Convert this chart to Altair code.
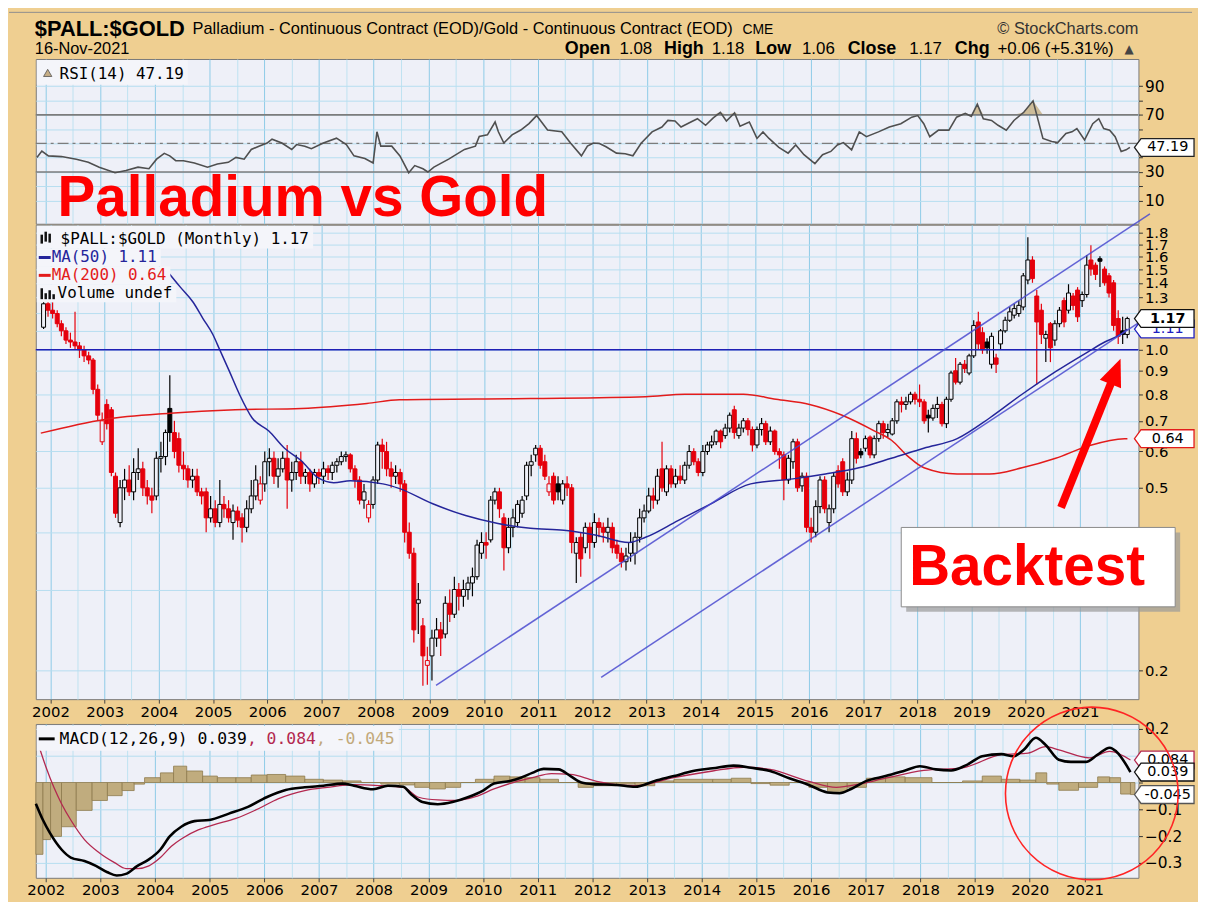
import altair as alt
import pandas as pd
import numpy as np

# ----------------------------------------------------------------- data
# Monthly candles, Nov-2001 .. Nov-2021 ($PALL:$GOLD ratio)
CANDLE_FIRST = "2001-11-01"
OPEN = [
    1.12, 1.26,
    1.22, 1.20, 1.14, 1.10, 1.05, 1.04, 1.02, 1.00, 0.97, 0.95, 0.82, 0.63,
    0.76, 0.74, 0.53, 0.42, 0.50, 0.52, 0.49, 0.54, 0.55, 0.50, 0.48, 0.48,
    0.58, 0.585, 0.745, 0.66, 0.64, 0.56, 0.55, 0.52, 0.53, 0.49, 0.49, 0.43,
    0.45, 0.42, 0.46, 0.45, 0.42, 0.445, 0.43, 0.41, 0.45, 0.48, 0.47, 0.51,
    0.57, 0.58, 0.53, 0.55, 0.58, 0.52, 0.54, 0.57, 0.53, 0.54, 0.51, 0.54,
    0.53, 0.55, 0.54, 0.56, 0.57, 0.585, 0.59, 0.55, 0.52, 0.47, 0.43, 0.46,
    0.52, 0.62, 0.60, 0.55, 0.53, 0.54, 0.51, 0.40, 0.36, 0.28, 0.25, 0.205,
    0.215, 0.235, 0.245, 0.24, 0.28, 0.265, 0.30, 0.29, 0.30, 0.31, 0.32, 0.36,
    0.38, 0.385, 0.47, 0.49, 0.43, 0.37, 0.41, 0.42, 0.44, 0.48, 0.56, 0.59,
    0.61, 0.57, 0.49, 0.53, 0.51, 0.47, 0.51, 0.50, 0.36, 0.39, 0.37, 0.41,
    0.38, 0.42, 0.41, 0.40, 0.41, 0.375, 0.36, 0.345, 0.36, 0.36, 0.39, 0.43,
    0.445, 0.48, 0.47, 0.55, 0.49, 0.55, 0.51, 0.53, 0.52, 0.56, 0.60, 0.57,
    0.54, 0.60, 0.62, 0.63, 0.665, 0.65, 0.675, 0.74, 0.65, 0.675, 0.70, 0.67,
    0.62, 0.67, 0.69, 0.63, 0.665, 0.60, 0.59, 0.52, 0.57, 0.63, 0.505, 0.53,
    0.41, 0.40, 0.455, 0.52, 0.42, 0.45, 0.545, 0.57, 0.49, 0.52, 0.64, 0.60,
    0.61, 0.645, 0.59, 0.64, 0.69, 0.66, 0.655, 0.70, 0.77, 0.76, 0.77, 0.80,
    0.78, 0.77, 0.72, 0.71, 0.745, 0.76, 0.69, 0.78, 0.90, 0.85, 0.93, 0.89,
    0.97, 1.15, 1.09, 1.04, 0.93, 0.96, 1.03, 1.10, 1.16, 1.19, 1.20, 1.24,
    1.42, 1.57, 1.31, 1.22, 1.06, 1.14, 1.05, 1.14, 1.28, 1.22, 1.31, 1.35,
    1.28, 1.32, 1.57, 1.53, 1.58, 1.50, 1.45, 1.40, 1.17, 1.10, 1.08,
]
HIGH = [
    1.30, 1.30,
    1.27, 1.22, 1.16, 1.12, 1.09, 1.21, 1.04, 1.02, 0.99, 0.96, 0.84, 0.73,
    0.78, 0.75, 0.54, 0.52, 0.55, 0.56, 0.58, 0.61, 0.57, 0.52, 0.50, 0.60,
    0.63, 0.67, 0.88, 0.70, 0.66, 0.60, 0.56, 0.55, 0.55, 0.50, 0.50, 0.48,
    0.47, 0.52, 0.48, 0.47, 0.46, 0.455, 0.44, 0.47, 0.52, 0.56, 0.53, 0.60,
    0.61, 0.60, 0.58, 0.60, 0.62, 0.57, 0.59, 0.60, 0.55, 0.55, 0.55, 0.55,
    0.57, 0.56, 0.57, 0.58, 0.60, 0.60, 0.595, 0.56, 0.53, 0.51, 0.47, 0.53,
    0.63, 0.64, 0.63, 0.57, 0.56, 0.55, 0.52, 0.42, 0.37, 0.31, 0.26, 0.225,
    0.245, 0.26, 0.255, 0.29, 0.30, 0.32, 0.31, 0.315, 0.32, 0.335, 0.385, 0.40,
    0.40, 0.48, 0.50, 0.50, 0.44, 0.43, 0.45, 0.47, 0.48, 0.57, 0.59, 0.62,
    0.62, 0.59, 0.53, 0.54, 0.53, 0.52, 0.53, 0.51, 0.39, 0.40, 0.42, 0.42,
    0.44, 0.43, 0.42, 0.43, 0.42, 0.385, 0.37, 0.37, 0.40, 0.40, 0.45, 0.46,
    0.50, 0.50, 0.55, 0.63, 0.56, 0.56, 0.55, 0.56, 0.57, 0.62, 0.61, 0.58,
    0.62, 0.63, 0.65, 0.67, 0.67, 0.69, 0.73, 0.755, 0.69, 0.71, 0.71, 0.68,
    0.68, 0.71, 0.70, 0.68, 0.67, 0.61, 0.60, 0.59, 0.64, 0.64, 0.54, 0.54,
    0.43, 0.47, 0.53, 0.53, 0.46, 0.54, 0.56, 0.58, 0.54, 0.665, 0.66, 0.61,
    0.65, 0.65, 0.65, 0.70, 0.70, 0.69, 0.71, 0.78, 0.79, 0.79, 0.81, 0.81,
    0.84, 0.78, 0.74, 0.76, 0.79, 0.77, 0.79, 0.90, 0.96, 0.94, 0.95, 0.98,
    1.16, 1.21, 1.12, 1.06, 1.09, 0.98, 1.11, 1.18, 1.24, 1.26, 1.28, 1.47,
    1.76, 1.60, 1.35, 1.26, 1.10, 1.15, 1.16, 1.24, 1.30, 1.39, 1.33, 1.37,
    1.34, 1.61, 1.69, 1.55, 1.60, 1.52, 1.47, 1.42, 1.22, 1.18, 1.18,
]
LOW = [
    1.11, 1.18,
    1.17, 1.12, 1.07, 1.03, 1.01, 1.00, 0.96, 0.94, 0.93, 0.80, 0.70, 0.62,
    0.67, 0.53, 0.43, 0.41, 0.47, 0.48, 0.47, 0.52, 0.48, 0.46, 0.44, 0.47,
    0.54, 0.56, 0.63, 0.58, 0.54, 0.52, 0.50, 0.50, 0.48, 0.46, 0.40, 0.42,
    0.41, 0.41, 0.43, 0.42, 0.385, 0.41, 0.38, 0.40, 0.44, 0.47, 0.46, 0.49,
    0.53, 0.51, 0.50, 0.54, 0.45, 0.49, 0.52, 0.51, 0.51, 0.49, 0.50, 0.51,
    0.51, 0.52, 0.52, 0.54, 0.56, 0.57, 0.54, 0.50, 0.46, 0.45, 0.42, 0.45,
    0.51, 0.55, 0.53, 0.50, 0.51, 0.49, 0.38, 0.35, 0.23, 0.24, 0.185, 0.186,
    0.19, 0.225, 0.215, 0.235, 0.255, 0.26, 0.27, 0.275, 0.285, 0.29, 0.315, 0.35,
    0.35, 0.38, 0.46, 0.43, 0.33, 0.36, 0.39, 0.41, 0.43, 0.47, 0.53, 0.57,
    0.55, 0.52, 0.48, 0.46, 0.47, 0.46, 0.48, 0.36, 0.31, 0.32, 0.36, 0.35,
    0.37, 0.39, 0.38, 0.38, 0.36, 0.35, 0.335, 0.33, 0.345, 0.34, 0.38, 0.42,
    0.44, 0.45, 0.46, 0.49, 0.48, 0.50, 0.50, 0.51, 0.51, 0.55, 0.56, 0.53,
    0.53, 0.59, 0.61, 0.62, 0.61, 0.64, 0.66, 0.64, 0.64, 0.66, 0.65, 0.60,
    0.61, 0.65, 0.62, 0.62, 0.59, 0.55, 0.47, 0.51, 0.55, 0.49, 0.49, 0.40,
    0.38, 0.39, 0.44, 0.44, 0.40, 0.44, 0.50, 0.48, 0.48, 0.51, 0.565, 0.58,
    0.60, 0.58, 0.58, 0.63, 0.64, 0.645, 0.65, 0.69, 0.73, 0.74, 0.76, 0.76,
    0.75, 0.69, 0.66, 0.70, 0.71, 0.68, 0.675, 0.77, 0.84, 0.84, 0.89, 0.88,
    0.96, 1.00, 0.98, 0.98, 0.91, 0.89, 1.00, 1.09, 1.15, 1.17, 1.18, 1.22,
    1.39, 1.40, 0.84, 1.03, 0.94, 0.94, 1.02, 1.12, 1.12, 1.20, 1.22, 1.15,
    1.24, 1.30, 1.45, 1.42, 1.37, 1.38, 1.30, 1.10, 1.03, 1.03, 1.06,
]
CLOSE = [
    1.26, 1.22,
    1.20, 1.14, 1.10, 1.05, 1.04, 1.02, 1.00, 0.97, 0.95, 0.82, 0.72, 0.70,
    0.69, 0.54, 0.44, 0.50, 0.52, 0.49, 0.54, 0.55, 0.50, 0.48, 0.47, 0.58,
    0.585, 0.66, 0.66, 0.60, 0.56, 0.55, 0.52, 0.53, 0.49, 0.48, 0.43, 0.45,
    0.42, 0.46, 0.45, 0.43, 0.445, 0.425, 0.41, 0.45, 0.48, 0.52, 0.51, 0.57,
    0.58, 0.53, 0.55, 0.58, 0.52, 0.54, 0.57, 0.53, 0.54, 0.51, 0.54, 0.53,
    0.55, 0.54, 0.56, 0.57, 0.585, 0.59, 0.55, 0.52, 0.47, 0.49, 0.46, 0.52,
    0.62, 0.60, 0.55, 0.53, 0.54, 0.51, 0.40, 0.36, 0.245, 0.285, 0.215, 0.21,
    0.235, 0.245, 0.235, 0.28, 0.265, 0.30, 0.29, 0.30, 0.31, 0.32, 0.375, 0.38,
    0.375, 0.47, 0.49, 0.45, 0.37, 0.41, 0.43, 0.46, 0.47, 0.56, 0.57, 0.61,
    0.56, 0.53, 0.51, 0.47, 0.49, 0.51, 0.50, 0.38, 0.38, 0.35, 0.41, 0.38,
    0.42, 0.41, 0.40, 0.41, 0.37, 0.36, 0.345, 0.355, 0.38, 0.39, 0.43, 0.445,
    0.48, 0.47, 0.53, 0.50, 0.55, 0.51, 0.53, 0.52, 0.56, 0.60, 0.57, 0.54,
    0.60, 0.62, 0.63, 0.665, 0.63, 0.675, 0.72, 0.66, 0.675, 0.70, 0.67, 0.62,
    0.67, 0.69, 0.63, 0.665, 0.60, 0.59, 0.52, 0.58, 0.63, 0.50, 0.53, 0.41,
    0.40, 0.455, 0.52, 0.45, 0.45, 0.53, 0.51, 0.49, 0.52, 0.64, 0.58, 0.59,
    0.64, 0.59, 0.64, 0.69, 0.66, 0.67, 0.70, 0.77, 0.76, 0.77, 0.80, 0.78,
    0.77, 0.70, 0.71, 0.745, 0.76, 0.69, 0.78, 0.89, 0.85, 0.93, 0.91, 0.97,
    1.13, 1.03, 1.00, 1.01, 1.07, 0.93, 1.10, 1.16, 1.21, 1.23, 1.25, 1.45,
    1.57, 1.43, 1.15, 1.08, 1.08, 1.01, 1.14, 1.22, 1.15, 1.33, 1.25, 1.18,
    1.32, 1.53, 1.50, 1.46, 1.56, 1.40, 1.33, 1.13, 1.07, 1.08, 1.17,
]

# moving averages (decimal year, value)
MA50 = [(2004.123, 1.50), (2004.396, 1.37), (2004.632, 1.27), (2004.813, 1.17), (2004.995, 1.08),
        (2005.122, 1.00), (2005.303, 0.896), (2005.485, 0.80), (2005.721, 0.71), (2006.029, 0.665),
        (2006.319, 0.61), (2006.628, 0.573), (2006.936, 0.526), (2007.227, 0.513), (2007.535, 0.518),
        (2008.134, 0.51), (2008.443, 0.498), (2009.042, 0.462), (2009.659, 0.435), (2010.258, 0.418),
        (2010.857, 0.408), (2011.474, 0.404), (2012.073, 0.394), (2012.672, 0.38), (2012.98, 0.39),
        (2013.579, 0.424), (2014.196, 0.462), (2014.922, 0.51), (2015.702, 0.523), (2016.301, 0.536),
        (2016.918, 0.553), (2017.517, 0.58), (2018.116, 0.61), (2018.733, 0.64), (2019.332, 0.71),
        (2019.931, 0.80), (2020.548, 0.896), (2021.147, 0.99), (2021.456, 1.04), (2021.746, 1.08),
        (2021.874, 1.11)]
MA200 = [(2001.82, 0.658), (2003.0, 0.705), (2004.21, 0.727), (2005.41, 0.74), (2006.63, 0.745),
         (2007.84, 0.764), (2008.44, 0.778), (2010.86, 0.783), (2012.98, 0.79), (2013.71, 0.80),
         (2014.79, 0.80), (2015.39, 0.78), (2016.01, 0.76), (2016.61, 0.72), (2017.21, 0.665),
         (2017.52, 0.635), (2017.83, 0.585), (2018.12, 0.553), (2018.73, 0.536), (2019.33, 0.536),
         (2019.93, 0.553), (2020.55, 0.58), (2021.15, 0.617), (2021.82, 0.64), (2021.874, 0.64)]

# hand drawn channel lines (decimal year, value)
CHANNEL_UPPER = [(2009.114, 0.1855), (2022.29, 1.979)]
CHANNEL_LOWER = [(2012.163, 0.193), (2022.33, 1.198)]

# RSI(14) (decimal year, value)
RSI = [(2001.84, 40.2), (2001.93, 44.7), (2002.05, 41.3), (2002.29, 40.8), (2002.56, 39.0),
       (2002.78, 36.8), (2002.98, 33.4), (2003.27, 29.5), (2003.47, 31.1), (2003.69, 33.4),
       (2003.89, 32.3), (2004.03, 39.0), (2004.17, 43.1), (2004.27, 41.3), (2004.38, 37.9),
       (2004.52, 37.9), (2004.72, 36.3), (2004.96, 33.4), (2005.14, 35.6), (2005.34, 36.8),
       (2005.48, 40.2), (2005.63, 39.0), (2005.76, 45.8), (2005.90, 48.1), (2006.05, 50.3),
       (2006.14, 53.0), (2006.32, 50.3), (2006.50, 45.8), (2006.59, 49.2), (2006.74, 48.1),
       (2006.86, 46.3), (2007.08, 50.3), (2007.32, 53.7), (2007.50, 49.2), (2007.64, 41.3),
       (2007.84, 39.5), (2007.99, 36.3), (2008.06, 58.2), (2008.13, 48.1), (2008.33, 48.1),
       (2008.48, 41.3), (2008.64, 29.5), (2008.75, 34.5), (2008.90, 32.3), (2008.99, 30.0),
       (2009.10, 33.4), (2009.37, 39.0), (2009.66, 45.8), (2009.86, 48.1), (2009.93, 54.9),
       (2010.08, 56.0), (2010.22, 65.0), (2010.28, 58.2), (2010.38, 50.3), (2010.53, 56.0),
       (2010.69, 59.4), (2010.84, 63.9), (2010.98, 69.5), (2011.18, 59.4), (2011.44, 58.2),
       (2011.60, 50.3), (2011.80, 41.3), (2011.91, 48.1), (2012.02, 50.3), (2012.13, 50.0),
       (2012.25, 47.7), (2012.44, 43.2), (2012.60, 42.8), (2012.74, 41.4), (2012.89, 50.1),
       (2013.09, 58.1), (2013.27, 61.5), (2013.38, 66.1), (2013.51, 65.7), (2013.62, 61.5),
       (2013.80, 65.0), (2013.92, 67.3), (2014.07, 62.7), (2014.21, 67.9), (2014.34, 71.8),
       (2014.45, 65.7), (2014.60, 71.4), (2014.70, 62.0), (2014.87, 65.0), (2015.01, 53.5),
       (2015.12, 58.1), (2015.23, 53.5), (2015.41, 47.3), (2015.58, 43.2), (2015.72, 48.9),
       (2015.87, 42.1), (2016.07, 35.9), (2016.21, 42.1), (2016.36, 44.4), (2016.48, 48.9),
       (2016.59, 50.6), (2016.74, 45.5), (2016.88, 58.1), (2017.01, 54.7), (2017.23, 58.1),
       (2017.43, 61.5), (2017.64, 63.8), (2017.84, 68.4), (2017.95, 69.5), (2018.06, 63.8),
       (2018.17, 54.7), (2018.33, 59.3), (2018.52, 59.3), (2018.66, 68.4), (2018.82, 71.1),
       (2018.93, 68.9), (2019.04, 77.5), (2019.15, 67.3), (2019.30, 66.1), (2019.42, 62.7),
       (2019.57, 59.3), (2019.71, 66.1), (2019.89, 71.8), (2020.06, 79.8), (2020.24, 53.5),
       (2020.40, 51.3), (2020.51, 50.6), (2020.66, 57.0), (2020.77, 58.1), (2020.86, 60.4),
       (2021.00, 52.4), (2021.15, 63.8), (2021.26, 67.3), (2021.35, 60.4), (2021.46, 59.3),
       (2021.56, 54.7), (2021.67, 44.4), (2021.76, 45.5), (2021.83, 47.2)]

# MACD(12,26,9): MACD line, signal line, histogram (decimal year, value)
MACD = [(2001.82, -0.079), (2001.95, -0.140), (2002.08, -0.189), (2002.29, -0.25), (2002.46, -0.28),
        (2002.71, -0.293), (2002.92, -0.311), (2003.13, -0.335), (2003.30, -0.347), (2003.47, -0.341),
        (2003.68, -0.311), (2003.89, -0.287), (2004.10, -0.25), (2004.27, -0.201), (2004.48, -0.165),
        (2004.72, -0.144), (2004.99, -0.140), (2005.35, -0.116), (2005.70, -0.091), (2006.04, -0.055),
        (2006.39, -0.028), (2006.74, -0.018), (2007.08, -0.012), (2007.43, -0.004), (2007.64, -0.012),
        (2007.99, -0.025), (2008.26, -0.012), (2008.54, -0.016), (2008.68, -0.043), (2008.89, -0.073),
        (2009.17, -0.081), (2009.44, -0.073), (2009.72, -0.055), (2010.00, -0.030), (2010.20, -0.004),
        (2010.49, 0.006), (2010.69, 0.018), (2010.90, 0.036), (2011.11, 0.051), (2011.38, 0.049),
        (2011.60, 0.024), (2011.80, 0.0), (2012.02, -0.006), (2012.44, -0.009), (2012.78, -0.016),
        (2013.14, 0.006), (2013.49, 0.024), (2013.84, 0.043), (2014.20, 0.053), (2014.58, 0.063),
        (2014.90, 0.055), (2015.25, 0.043), (2015.60, 0.016), (2015.96, -0.009), (2016.30, -0.037),
        (2016.52, -0.040), (2016.73, -0.024), (2017.01, 0.006), (2017.36, 0.024), (2017.72, 0.045),
        (2017.99, 0.061), (2018.28, 0.049), (2018.56, 0.045), (2018.84, 0.065), (2019.13, 0.098),
        (2019.48, 0.106), (2019.70, 0.098), (2019.89, 0.122), (2020.11, 0.167), (2020.29, 0.140),
        (2020.53, 0.085), (2020.75, 0.077), (2021.02, 0.077), (2021.24, 0.104), (2021.46, 0.130),
        (2021.58, 0.116), (2021.84, 0.039)]
SIGNAL = [(2001.87, 0.14), (2002.01, 0.055), (2002.15, -0.018), (2002.29, -0.079), (2002.46, -0.140),
          (2002.71, -0.213), (2002.98, -0.262), (2003.26, -0.299), (2003.47, -0.321), (2003.68, -0.321),
          (2003.89, -0.311), (2004.10, -0.280), (2004.30, -0.238), (2004.51, -0.207), (2004.79, -0.177),
          (2005.07, -0.158), (2005.48, -0.134), (2005.90, -0.097), (2006.25, -0.061), (2006.74, -0.030),
          (2007.15, -0.018), (2007.64, -0.008), (2008.13, -0.012), (2008.54, -0.018), (2008.82, -0.055),
          (2009.17, -0.065), (2009.51, -0.067), (2009.86, -0.053), (2010.20, -0.024), (2010.55, 0.0),
          (2010.90, 0.018), (2011.25, 0.033), (2011.60, 0.030), (2011.95, 0.012), (2012.08, 0.004),
          (2012.78, -0.012), (2013.49, 0.018), (2014.20, 0.043), (2014.76, 0.057), (2015.25, 0.049),
          (2015.96, 0.004), (2016.46, -0.018), (2016.88, -0.006), (2017.36, 0.016), (2018.06, 0.045),
          (2018.77, 0.055), (2019.48, 0.104), (2019.97, 0.110), (2020.29, 0.134), (2020.53, 0.122),
          (2021.09, 0.092), (2021.46, 0.116), (2021.84, 0.084)]
HIST = [(2001.82, -0.268), (2001.95, -0.213), (2002.09, -0.201), (2002.29, -0.165), (2002.56, -0.104),
        (2002.85, -0.067), (2003.13, -0.049), (2003.40, -0.030), (2003.62, -0.006), (2003.81, 0.018),
        (2004.10, 0.036), (2004.34, 0.061), (2004.58, 0.043), (2004.87, 0.024), (2005.14, 0.018),
        (2005.48, 0.018), (2005.76, 0.028), (2006.05, 0.030), (2006.39, 0.024), (2006.74, 0.012),
        (2007.08, 0.009), (2007.43, 0.006), (2007.77, 0.0), (2008.13, -0.006), (2008.47, -0.009),
        (2008.75, -0.018), (2009.02, -0.024), (2009.31, -0.018), (2009.59, 0.0), (2009.86, 0.012),
        (2010.20, 0.024), (2010.49, 0.021), (2010.77, 0.018), (2011.04, 0.012), (2011.38, 0.0),
        (2011.74, -0.018), (2012.02, -0.012), (2012.44, -0.006), (2012.78, -0.012), (2013.14, 0.006),
        (2013.49, 0.012), (2014.20, 0.012), (2014.54, 0.016), (2014.90, -0.004), (2015.25, -0.010),
        (2015.60, 0.0), (2015.96, -0.018), (2016.30, -0.033), (2016.66, -0.018), (2017.01, 0.016),
        (2017.36, 0.021), (2017.72, 0.018), (2018.21, 0.0), (2018.77, 0.006), (2019.13, 0.024),
        (2019.48, 0.012), (2019.82, 0.009), (2020.11, 0.036), (2020.31, -0.006), (2020.53, -0.029),
        (2020.89, -0.018), (2021.24, 0.021), (2021.46, 0.018), (2021.66, -0.043), (2021.84, -0.045)]

# last-value tags
RSI_LAST = 47.19
PRICE_LAST, MA50_LAST, MA200_LAST = 1.17, 1.11, 0.64
MACD_LAST, SIGNAL_LAST, HIST_LAST = 0.039, 0.084, -0.045

# axis ticks
RSI_TICKS = [10, 20, 30, 40, 50, 60, 70, 80, 90]
PRICE_TICKS = [0.2, 0.3, 0.4, 0.5, 0.6, 0.7, 0.8, 0.9, 1.0, 1.1, 1.2, 1.3, 1.4, 1.5, 1.6, 1.7, 1.8]
MACD_TICKS = [-0.3, -0.2, -0.1, 0, 0.1, 0.2]
YEARS = list(range(2002, 2022))

# ----------------------------------------------------------------- style
BG = "#EFCF91"
PLOT_BG = "#EEF0F8"
LEG_BG = "#F4F5FA"
RED = "#E5000C"
FONT = "DejaVu Sans"
MONO = "DejaVu Sans Mono"
HEAD = "Liberation Sans"
W = 1111
H_RSI, H_MAIN, H_GAP, H_MACD = 166, 478, 23, 155


def dec_to_date(t):
    y = int(np.floor(t))
    a = pd.Timestamp(year=y, month=1, day=1)
    b = pd.Timestamp(year=y + 1, month=1, day=1)
    return a + (b - a) * (t - y)


def series(pairs, name):
    return pd.DataFrame({"date": [dec_to_date(t) for t, _ in pairs], name: [v for _, v in pairs]})


HALF = [alt.DateTime(year=y, month=m, date=1) for y in YEARS for m in (1, 7)]
IS_YEAR = "month(datum.value) === 0"
XS = alt.Scale(domain=[alt.DateTime(year=2001, month=10, date=27),
                       alt.DateTime(year=2021, month=12, date=27)], nice=False)


def x_axis(show):
    return alt.Axis(values=HALF, grid=True,
                    gridColor={"condition": {"test": IS_YEAR, "value": "#8ECBE7"}, "value": "#BEE2F1"},
                    gridWidth=1, labels=show, ticks=show, tickSize=4,
                    tickColor={"condition": {"test": IS_YEAR, "value": "#444444"}, "value": "rgba(0,0,0,0)"},
                    labelExpr=IS_YEAR + " ? timeFormat(datum.value, '%Y') : ''",
                    labelFont=FONT, labelFontSize=15, labelColor="#000000", labelPadding=1,
                    labelOverlap=False, labelFlush=False, domain=False, title=None)


def y_axis(values, expr, size=15.5):
    return alt.Axis(orient="right", values=values, grid=True, gridColor="#B6DEF0", gridWidth=1,
                    labelExpr=expr, labelFont=FONT, labelFontSize=size, labelColor="#000000",
                    ticks=True, tickSize=4, tickColor="#333333", labelPadding=2, domain=False,
                    title=None, labelOverlap=False, labelFlush=False)


X_TOP = alt.X("date:T", scale=XS, axis=x_axis(False))
X_LAB = alt.X("date:T", scale=XS, axis=x_axis(True))

YR_S = alt.Scale(domain=[-6.2, 109.1], nice=False, zero=False)
YM_S = alt.Scale(type="log", domain=[0.173, 1.874], nice=False)
YD_S = alt.Scale(domain=[-0.3556, 0.2185], nice=False, zero=False)
YR_A = y_axis(RSI_TICKS, "indexof([10, 30, 70, 90], datum.value) >= 0 ? format(datum.value, 'd') : ''")
YM_A = y_axis(PRICE_TICKS, "indexof([0.3, 1.1, 1.2], datum.value) >= 0 ? '' : format(datum.value, '.1f')", 15)
YD_A = y_axis(MACD_TICKS, "(datum.value == 0.1 || datum.value == 0) ? '' : format(datum.value, '.1f')")


def one(**kw):
    return pd.DataFrame({k: [v] for k, v in kw.items()})


def label(text, x, y, size, color="#000000", weight="normal", font=FONT, align="left"):
    return alt.Chart(one(t=text)).mark_text(align=align, baseline="alphabetic", font=font,
                                            fontSize=size, fontWeight=weight, color=color).encode(
        x=alt.value(x), y=alt.value(y), text="t:N")


def hline(x1, x2, y, color, width):
    return alt.Chart(one(t=0)).mark_rule(color=color, strokeWidth=width).encode(
        x=alt.value(x1), x2=alt.value(x2), y=alt.value(y), y2=alt.value(y))


def box(x1, x2, y1, y2, fill):
    return alt.Chart(one(t=0)).mark_rect(fill=fill).encode(
        x=alt.value(x1), x2=alt.value(x2), y=alt.value(y1), y2=alt.value(y2))


TAG_PATH = "M-1,0L-0.78,-0.3L1,-0.3L1,0.3L-0.78,0.3Z"


def tag(value, text, stroke, ys, ya, bold=False, tcolor="#000000"):
    d = alt.Chart(one(v=value, t=text))
    sym = d.mark_point(shape=TAG_PATH, size=3600, filled=True, fill="#FFFFFF", stroke=stroke,
                       strokeWidth=1.3, opacity=1).encode(
        x=alt.value(W + 26), y=alt.Y("v:Q", scale=ys, axis=ya))
    txt = d.mark_text(align="center", baseline="middle", font=FONT, fontSize=14.5,
                      fontWeight="bold" if bold else "normal", color=tcolor).encode(
        x=alt.value(W + 29.5), y=alt.Y("v:Q", scale=ys, axis=ya), text="t:N")
    return [sym, txt]


LEG = 16
CW = 0.602 * LEG

# ----------------------------------------------------------------- RSI panel
rsi_df = series(RSI, "rsi")
lv = pd.DataFrame({"v": [70, 30]})
rsi_text = f"RSI(14) {RSI_LAST:.2f}"
rsi_layers = [
    alt.Chart(rsi_df).transform_calculate(top="max(datum.rsi, 70)", base="70").mark_area(
        color="#C9B68E", opacity=0.9).encode(x=X_TOP, y=alt.Y("top:Q", scale=YR_S, axis=YR_A), y2="base:Q"),
    alt.Chart(lv).mark_rule(color="#7C7C7C", strokeWidth=1.6).encode(y=alt.Y("v:Q", scale=YR_S, axis=YR_A)),
    alt.Chart(one(v=50)).mark_rule(color="#7C7C7C", strokeWidth=1.2, strokeDash=[11, 4, 3, 4]).encode(
        y=alt.Y("v:Q", scale=YR_S, axis=YR_A)),
    alt.Chart(rsi_df).mark_line(color="#4F4F4F", strokeWidth=1.6).encode(
        x=X_TOP, y=alt.Y("rsi:Q", scale=YR_S, axis=YR_A)),
    *tag(RSI_LAST, f"{RSI_LAST:.2f}", "#222222", YR_S, YR_A),
    box(1, 28 + CW * len(rsi_text), 1, 26, LEG_BG),
    alt.Chart(one(t=0)).mark_point(shape="triangle-up", size=70, filled=True, color="#C6AE86",
                                   stroke="#555555", strokeWidth=0.8, opacity=1).encode(
        x=alt.value(12), y=alt.value(14)),
    label(rsi_text, 24, 20, LEG, font=MONO),
    label("Palladium vs Gold", 22, 158, 57, color="#FF0000", weight="bold", font=HEAD),
    # header
    hline(-27, 1165, -47, "#8E8E8E", 1),
    label("$PALL:$GOLD", -1, -23, 22, weight="bold", font=HEAD),
    label("Palladium - Continuous Contract (EOD)/Gold - Continuous Contract (EOD)", 158, -25, 16.5, font=HEAD),
    label("CME", 712, -25, 14, font=HEAD),
    label("\u00a9 StockCharts.com", W, -25, 16.5, color="#333333", font=HEAD, align="right"),
    label("16-Nov-2021", -1, -5, 16.5, font=HEAD),
    label("Open", 533, -5, 18, weight="bold", font=HEAD),
    label("1.08", 588, -5, 17, font=HEAD),
    label("High", 633, -5, 18, weight="bold", font=HEAD),
    label("1.18", 681, -5, 17, font=HEAD),
    label("Low", 725, -5, 18, weight="bold", font=HEAD),
    label("1.06", 772, -5, 17, font=HEAD),
    label("Close", 818, -5, 18, weight="bold", font=HEAD),
    label("1.17", 880, -5, 17, font=HEAD),
    label("Chg", 926, -5, 18, weight="bold", font=HEAD),
    label("+0.06 (+5.31%)", 969, -5, 17, font=HEAD),
    label("\u25b2", 1097, -6, 12, color="#444444", font=FONT),
]
rsi = alt.layer(*rsi_layers).properties(width=W, height=H_RSI)

# ----------------------------------------------------------------- main panel
c = pd.DataFrame({"date": pd.date_range(CANDLE_FIRST, periods=len(CLOSE), freq="MS") + pd.Timedelta(days=14),
                  "open": OPEN, "high": HIGH, "low": LOW, "close": CLOSE})
assert len(OPEN) == len(HIGH) == len(LOW) == len(CLOSE) == 241
prev = c["close"].shift(1).fillna(c["open"])
c["col"] = np.where(c["close"] < prev, RED, "#000000")
c["fil"] = np.where(c["close"] >= c["open"], PLOT_BG, c["col"])

ma50 = series(MA50, "v")
ma200 = series(MA200, "v")
chan = pd.concat([series(CHANNEL_UPPER, "v").assign(id="u"), series(CHANNEL_LOWER, "v").assign(id="l")])

leg1 = f"$PALL:$GOLD (Monthly) {PRICE_LAST:.2f}"
leg2 = f"MA(50) {MA50_LAST:.2f}"
leg3 = f"MA(200) {MA200_LAST:.2f}"
leg4 = "Volume undef"
main_layers = [
    alt.Chart(c).mark_rule(strokeWidth=1.2).encode(
        x=X_LAB, y=alt.Y("low:Q", scale=YM_S, axis=YM_A), y2="high:Q",
        color=alt.Color("col:N", scale=None)),
    alt.Chart(c).mark_bar(size=4, strokeWidth=1).encode(
        x=X_LAB, y=alt.Y("open:Q", scale=YM_S, axis=YM_A), y2="close:Q",
        fill=alt.Fill("fil:N", scale=None), stroke=alt.Stroke("col:N", scale=None)),
    alt.Chart(ma200).mark_line(color="#E31B1B", strokeWidth=1.5, interpolate="monotone").encode(
        x=X_LAB, y=alt.Y("v:Q", scale=YM_S, axis=YM_A)),
    alt.Chart(ma50).mark_line(color="#25259A", strokeWidth=1.5, interpolate="monotone").encode(
        x=X_LAB, y=alt.Y("v:Q", scale=YM_S, axis=YM_A)),
    alt.Chart(one(v=1.0)).mark_rule(color="#1F1FB5", strokeWidth=1.5).encode(
        y=alt.Y("v:Q", scale=YM_S, axis=YM_A)),
    alt.Chart(chan).mark_line(color="#4A4ACF", strokeWidth=1.5, opacity=0.85).encode(
        x=X_LAB, y=alt.Y("v:Q", scale=YM_S, axis=YM_A), detail="id:N"),
    # legend
    box(1, 29 + CW * len(leg1), 1, 24, LEG_BG),
    box(1, 20 + CW * len(leg2), 24, 42, LEG_BG),
    box(1, 20 + CW * len(leg3), 42, 60, LEG_BG),
    box(1, 26 + CW * len(leg4), 60, 78, LEG_BG),
    alt.Chart(pd.DataFrame({"x": [6, 10, 14], "y1": [10, 7, 9], "y2": [19, 17, 18]})).mark_rule(
        color="#111111", strokeWidth=2.5).encode(x=alt.X("x:Q", scale=None), y=alt.Y("y1:Q", scale=None),
                                                 y2="y2:Q"),
    label(leg1, 25, 19, LEG, font=MONO),
    hline(3, 15, 33, "#25259A", 3),
    label(leg2, 16, 38, LEG, color="#25259A", font=MONO),
    hline(3, 15, 51, "#E31B1B", 3),
    label(leg3, 16, 56, LEG, color="#E31B1B", font=MONO),
    alt.Chart(pd.DataFrame({"x": [6, 10, 14, 18], "y1": [64, 69, 66, 70]})).mark_rule(
        color="#111111", strokeWidth=2.5).encode(x=alt.X("x:Q", scale=None), y=alt.Y("y1:Q", scale=None),
                                                 y2=alt.value(75)),
    label(leg4, 22, 74, LEG, font=MONO),
    # tags
    *tag(MA50_LAST, f"{MA50_LAST:.2f}", "#2020C0", YM_S, YM_A, tcolor="#2020C0"),
    *tag(MA200_LAST, f"{MA200_LAST:.2f}", "#E31B1B", YM_S, YM_A),
    *tag(PRICE_LAST, f"{PRICE_LAST:.2f}", "#111111", YM_S, YM_A, bold=True),
    # Backtest annotation
    alt.Chart(one(t=0)).mark_rect(color="#9A9A9A", opacity=0.7).encode(
        x=alt.value(877), x2=alt.value(1153), y=alt.value(310), y2=alt.value(390)),
    alt.Chart(one(t=0)).mark_rect(fill="#FFFFFF", stroke="#8A8A8A", strokeWidth=1).encode(
        x=alt.value(872), x2=alt.value(1148), y=alt.value(305), y2=alt.value(385)),
    label("Backtest", 880, 363, 57, color="#FF0000", weight="bold", font=HEAD),
    alt.Chart(one(t=0)).mark_rule(color="#FF0000", strokeWidth=8).encode(
        x=alt.value(1033), y=alt.value(285), x2=alt.value(1084), y2=alt.value(158)),
    alt.Chart(one(t=0)).mark_point(shape="M0,-1L0.46,0.1L-0.46,0.1Z", size=2500, filled=True,
                                   color="#FF0000", angle=21.8, opacity=1).encode(
        x=alt.value(1083.7), y=alt.value(158.2)),
]
main = alt.layer(*main_layers).properties(width=W, height=H_MAIN)

# ----------------------------------------------------------------- spacer (room for the year labels)
gap = alt.Chart(one(t="")).mark_text().encode(text="t:N").properties(
    width=W, height=H_GAP, view=alt.ViewBackground(fill="transparent", stroke="transparent"))

# ----------------------------------------------------------------- MACD panel
macd_df = series(MACD, "v")
sig_df = series(SIGNAL, "v")
hist_df = series(HIST, "v")
hist_df["date2"] = hist_df["date"].shift(-1)
hist_df.loc[hist_df.index[-1], "date2"] = hist_df["date"].iloc[-1] + pd.Timedelta(days=30)
hist_df["zero"] = 0.0

part1 = f"MACD(12,26,9) {MACD_LAST:.3f}"
part2 = f", {SIGNAL_LAST:.3f}"
part3 = f", {HIST_LAST:.3f}"
ML = 16.5
MW = 0.602 * ML

macd_layers = [
    alt.Chart(hist_df).mark_rect(fill="#C0AC7E", stroke="#8E7B4D", strokeWidth=0.8).encode(
        x=X_LAB, x2="date2:T", y=alt.Y("v:Q", scale=YD_S, axis=YD_A), y2="zero:Q"),
    alt.Chart(sig_df).mark_line(color="#B3284F", strokeWidth=1.3, interpolate="monotone").encode(
        x=X_LAB, y=alt.Y("v:Q", scale=YD_S, axis=YD_A)),
    alt.Chart(macd_df).mark_line(color="#000000", strokeWidth=2.6, interpolate="monotone").encode(
        x=X_LAB, y=alt.Y("v:Q", scale=YD_S, axis=YD_A)),
    *tag(SIGNAL_LAST, f"{SIGNAL_LAST:.3f}", "#B3284F", YD_S, YD_A),
    *tag(MACD_LAST, f"{MACD_LAST:.3f}", "#111111", YD_S, YD_A),
    *tag(HIST_LAST, f"{HIST_LAST:.3f}", "#555555", YD_S, YD_A),
    box(1, 28 + MW * (len(part1) + len(part2) + len(part3)), 2, 27, LEG_BG),
    hline(3, 19, 15, "#000000", 3),
    label(part1, 24, 20, ML, font=MONO),
    label(part2, 24 + MW * len(part1), 20, ML, color="#B3284F", font=MONO),
    label(part3, 24 + MW * (len(part1) + len(part2)), 20, ML, color="#C2A97A", font=MONO),
    alt.Chart(one(t=0)).mark_point(shape="circle", size=174 * 174, filled=False, color="#FF2424",
                                   strokeWidth=1.6, opacity=1).encode(
        x=alt.value(1064), y=alt.value(70)),
]
macd = alt.layer(*macd_layers).properties(width=W, height=H_MACD)

chart = alt.vconcat(rsi, main, gap, macd, spacing=1, bounds="flush").resolve_scale(
    x="independent", y="independent").properties(padding=0, background=BG).configure_view(
    fill=PLOT_BG, stroke="#7A7A7A", strokeWidth=1)

chart.save("out.html", embed_options={"renderer": "svg", "actions": False})
